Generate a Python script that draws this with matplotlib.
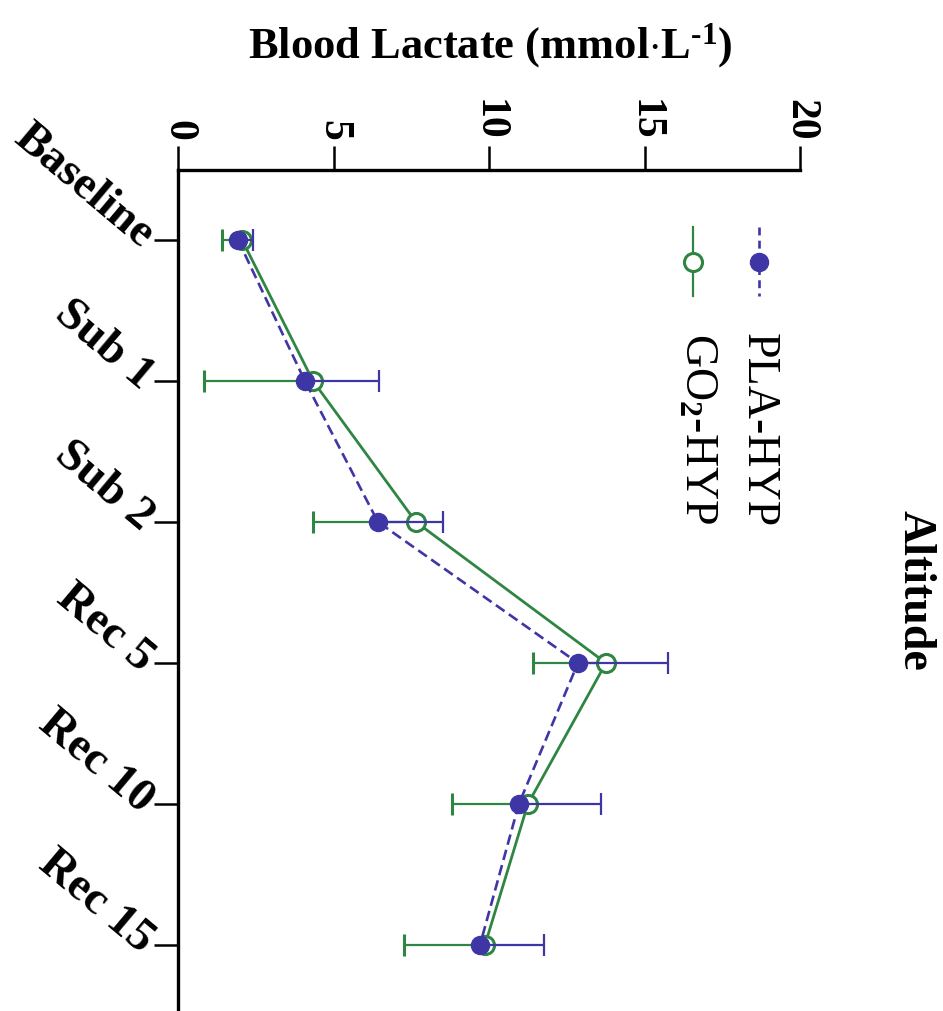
import numpy as np
import matplotlib
matplotlib.use('Agg')
import matplotlib.pyplot as plt

plt.rcParams['font.family'] = ['Liberation Serif', 'DejaVu Serif']
plt.rcParams['mathtext.fontset'] = 'custom'
plt.rcParams['mathtext.rm'] = 'Liberation Serif:bold'
plt.rcParams['mathtext.bf'] = 'Liberation Serif:bold'
plt.rcParams['mathtext.it'] = 'Liberation Serif'

# =====================
# data
categories = ['Baseline', 'Sub 1', 'Sub 2', 'Rec 5', 'Rec 10', 'Rec 15']
pla_mean = [1.93, 4.08, 6.43, 12.86, 10.96, 9.71]
pla_sd = [0.48, 2.38, 2.09, 2.90, 2.64, 2.06]
go2_mean = [2.06, 4.34, 7.65, 13.76, 11.25, 9.87]
go2_sd = [0.63, 3.50, 3.31, 2.35, 2.44, 2.60]
xticks = [0, 5, 10, 15, 20]

blue = '#3f36a6'
green = '#2f8542'

# =====================
# plot
fig = plt.figure(figsize=(9.43, 10.12), dpi=100)
ax = fig.add_axes([178/943, 0, 622/943, 1 - 171/1012])

pos = np.arange(len(categories))

# GO2-HYP: open green, error bars to the left
eb = ax.errorbar(go2_mean, pos, xerr=[go2_sd, np.zeros(len(pos))], color=green,
                 lw=2.0, marker='o', ms=13, mfc='white', mec=green, mew=2.2,
                 elinewidth=1.6, capsize=8, capthick=1.6, zorder=3)
for cl in eb[1]:
    if np.allclose(cl.get_xdata(), go2_mean):
        cl.set_visible(False)

# PLA-HYP: filled blue, dashed, error bars to the right
eb = ax.errorbar(pla_mean, pos, xerr=[np.zeros(len(pos)), pla_sd], color=blue,
                 lw=1.9, ls=(0, (4, 2)), marker='o', ms=13, mfc=blue, mec=blue,
                 elinewidth=1.6, capsize=8, capthick=1.6, zorder=4)
for cl in eb[1]:
    if np.allclose(cl.get_xdata(), pla_mean):
        cl.set_visible(False)

ax.set_xlim(0, 20)
ax.set_ylim(5.468, -0.496)

ax.spines['right'].set_visible(False)
ax.spines['bottom'].set_visible(False)
ax.spines['left'].set_linewidth(2.4)
ax.spines['top'].set_linewidth(2.4)

ax.xaxis.tick_top()
ax.set_xticks(xticks)
ax.set_xticklabels([str(t) for t in xticks], rotation=-90, fontsize=30,
                   fontweight='bold', ha='center', va='bottom')
ax.tick_params(axis='x', length=17, width=1.8, pad=5)

ax.set_yticks(pos)
ax.set_yticklabels(categories, rotation=-40, rotation_mode='anchor',
                   fontsize=34, fontweight='bold', ha='right', va='center')
ax.tick_params(axis='y', length=17, width=1.8, pad=5)

# axis titles
fig.text(490/943, 1 - 46/1012, r'Blood Lactate (mmol$\cdot$L$^{\text{-1}}$)',
         fontsize=32, fontweight='bold', ha='center', va='center')
fig.text(915/943, 1 - 590/1012, 'Altitude', fontsize=33, fontweight='bold',
         rotation=-90, ha='center', va='center')

# legend (rotated, drawn by hand)
ax.plot([759/943, 759/943], [1 - 228/1012, 1 - 297/1012], transform=fig.transFigure,
        color=blue, lw=1.9, ls=(0, (3, 2)), clip_on=False)
ax.plot([759/943], [1 - 263/1012], transform=fig.transFigure, marker='o', ms=13,
        color=blue, clip_on=False)
ax.plot([693/943, 693/943], [1 - 228/1012, 1 - 297/1012], transform=fig.transFigure,
        color=green, lw=1.6, clip_on=False)
ax.plot([693/943], [1 - 263/1012], transform=fig.transFigure, marker='o', ms=13,
        mfc='white', mec=green, mew=2.2, clip_on=False)
fig.text(758/943, 1 - 333/1012, 'PLA-HYP', fontsize=33, rotation=-90,
         ha='center', va='top')
fig.text(697/943, 1 - 333/1012, r'GO$_{\mathit{2}}$-HYP', fontsize=33, rotation=-90,
         ha='center', va='top')

plt.savefig('out.png', dpi=100)
